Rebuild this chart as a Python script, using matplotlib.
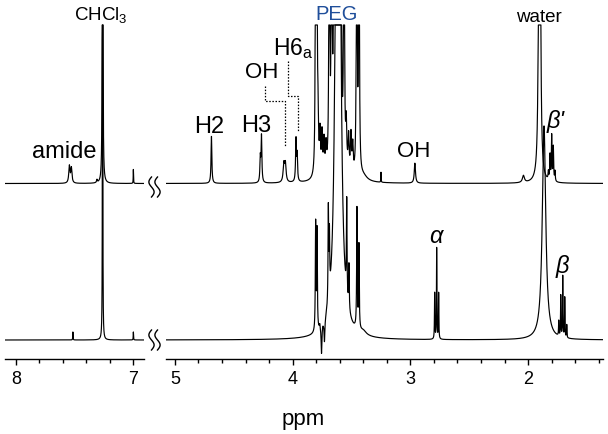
import numpy as np
import matplotlib
matplotlib.use("Agg")
import matplotlib.pyplot as plt
from matplotlib.ticker import FixedLocator, MultipleLocator
from matplotlib.lines import Line2D

plt.rcParams['font.family'] = ['Liberation Sans', 'DejaVu Sans']
plt.rcParams['mathtext.fontset'] = 'custom'
plt.rcParams['mathtext.rm'] = 'Liberation Sans'
plt.rcParams['mathtext.it'] = 'Liberation Sans:italic'

# ---------------- data (chemical shift ppm, peak height, half width ppm) -------------
left_ticks = [8, 7]
right_ticks = [5, 4, 3, 2]
left_range = (8.093, 6.912)
right_range = (5.076, 1.364)

upper_ppm = [7.545, 7.528, 7.31, 7.262, 7.00,
             4.690, 4.275, 4.265, 4.075, 4.062, 3.972, 3.962,
             3.805, 3.795, 3.785, 3.768, 3.751, 3.734, 3.717,
             3.689, 3.669, 3.649, 3.620, 3.590, 3.564,
             3.545, 3.525, 3.505, 3.490, 3.456, 3.437, 3.40,
             3.25, 2.962, 2.04, 1.903,
             1.828, 1.814, 1.800, 1.786, 1.772]
upper_height = [17, 15, 3, 1200, 14,
                47, 24, 46, 18, 18, 42, 26,
                400, 400, 50, 40, 40, 32, 25,
                500, 500, 500, 3000, 500, 500,
                42, 34, 38, 28, 500, 500, 5,
                10, 20, 7, 2500,
                8, 25, 45, 34, 10]
upper_width = [0.006, 0.006, 0.004, 0.0016, 0.0015,
               0.004, 0.004, 0.004, 0.007, 0.007, 0.004, 0.004,
               0.003, 0.003, 0.005, 0.005, 0.005, 0.005, 0.005,
               0.003, 0.003, 0.003, 0.0045, 0.003, 0.003,
               0.005, 0.005, 0.005, 0.005, 0.003, 0.003, 0.04,
               0.0015, 0.006, 0.01, 0.003,
               0.003, 0.003, 0.003, 0.003, 0.003]

lower_ppm = [7.515, 7.262, 7.00,
             3.805, 3.793, 3.770, 3.755, 3.745, 3.730,
             3.697, 3.688, 3.615, 3.541, 3.522, 3.454, 3.437, 3.40,
             2.794, 2.777, 2.760, 1.865,
             1.740, 1.723, 1.706, 1.689, 1.672]
lower_height = [8, 2500, 8,
                108, 100, 5, -28, 2, -22,
                94, 60, 1600, 96, 45, 120, 84, 4,
                46, 91, 46, 214,
                15, 41, 61, 40, 13]
lower_width = [0.0015, 0.0007, 0.0015,
               0.003, 0.003, 0.004, 0.004, 0.004, 0.004,
               0.003, 0.003, 0.0127, 0.003, 0.003, 0.003, 0.003, 0.03,
               0.002, 0.002, 0.002, 0.0175,
               0.002, 0.002, 0.002, 0.002, 0.002]

UPPER_BASE = 175.5
LOWER_BASE = 19.0
CLIP = 334.0

# ---------------- figure ----------------
W, H = 608, 435
fig = plt.figure(figsize=(W / 100, H / 100), dpi=100)


def px_rect(x0, x1, y_top, y_bot):
    return [x0 / W, 1 - y_bot / H, (x1 - x0) / W, (y_bot - y_top) / H]


def fx(x):
    return x / W


def fy(y):
    return 1 - y / H


axL = fig.add_axes(px_rect(5, 143.7, 0, 360))
axR = fig.add_axes(px_rect(166, 603, 0, 360))


def spectrum(grid, ppm, hgt, wid):
    s = np.zeros_like(grid)
    for p, h, w in zip(ppm, hgt, wid):
        s += h * w * w / ((grid - p) ** 2 + w * w)
    return s


for ax, rng, ticks, n in [(axL, left_range, left_ticks, 10000),
                          (axR, right_range, right_ticks, 24000)]:
    grid = np.linspace(rng[0], rng[1], n)
    up = np.minimum(UPPER_BASE + spectrum(grid, upper_ppm, upper_height, upper_width), CLIP)
    lo = np.minimum(LOWER_BASE + spectrum(grid, lower_ppm, lower_height, lower_width), CLIP)
    ax.plot(grid, lo, color='black', lw=0.85)
    ax.plot(grid, up, color='black', lw=0.85)
    ax.set_xlim(*rng)
    ax.set_ylim(0, 360)
    ax.patch.set_visible(False)
    for s in ['top', 'left', 'right']:
        ax.spines[s].set_visible(False)
    ax.spines['bottom'].set_linewidth(1.0)
    ax.set_yticks([])
    ax.xaxis.set_major_locator(FixedLocator(ticks))
    ax.xaxis.set_minor_locator(MultipleLocator(0.2))
    ax.tick_params(axis='x', which='major', direction='out', length=4.3, width=1.0,
                   labelsize=13, pad=3.5)
    ax.tick_params(axis='x', which='minor', direction='out', length=2.9, width=1.0)

# ---------------- labels ----------------
FS = 17
axL.text(7.28, 340, r'CHCl$_3$', fontsize=13.5, ha='center', va='baseline')
axL.text(7.592, 201.7, 'amide', fontsize=FS, ha='center', va='baseline')

axR.text(4.711, 226.7, 'H2', fontsize=FS, ha='center', va='baseline')
axR.text(4.306, 228.3, 'H3', fontsize=FS, ha='center', va='baseline')
axR.text(4.265, 281.7, 'OH', fontsize=16, ha='center', va='baseline')
axR.text(4.167, 305, r'H6$_\mathrm{a}$', fontsize=16.5, ha='left', va='baseline')
axR.text(3.628, 340, 'PEG', fontsize=14.5, ha='center', va='baseline', color='#1f4e9a')
axR.text(2.969, 203.3, 'OH', fontsize=16, ha='center', va='baseline')
axR.text(1.907, 338.3, 'water', fontsize=13.5, ha='center', va='baseline')
axR.text(1.842, 231.7, "β'", fontsize=FS, ha='left', va='baseline', style='italic')
axR.text(2.783, 116.7, 'α', fontsize=FS, ha='center', va='baseline', style='italic')
axR.text(1.771, 86.7, 'β', fontsize=FS, ha='left', va='baseline', style='italic')


def rppm(x):
    return 5 - (x - 175) / 117.7


def ry(y):
    return 360 - y


for path in ([(265, 87), (265, 102), (285, 102), (285, 148)],
             [(287.7, 62), (287.7, 97), (298, 97), (298, 132)]):
    axR.plot([rppm(p[0]) for p in path], [ry(p[1]) for p in path],
             color='black', lw=0.9, ls=(0, (1.2, 1.3)), clip_on=False)

# axis-break marks
t = np.linspace(0, 1, 60)
for yc in (188, 341):
    for xc in (151.5, 157.5):
        xs = xc - 2.6 * np.sin(2 * np.pi * t)
        ys = yc - 10 + 20 * t
        fig.add_artist(Line2D(fx(xs), fy(ys), color='black', lw=1.0,
                              transform=fig.transFigure))

fig.text(fx(303), fy(425), 'ppm', fontsize=16, ha='center', va='baseline')

fig.savefig('out.png', dpi=100)
